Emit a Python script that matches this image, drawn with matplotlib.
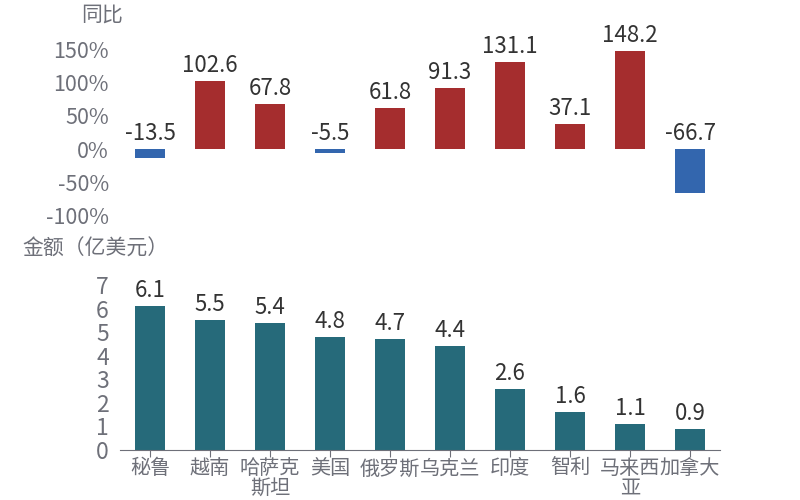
import matplotlib
matplotlib.use("Agg")
import matplotlib.pyplot as plt

plt.rcParams["font.family"] = ["Noto Sans CJK SC", "DejaVu Sans"]

countries = ["秘鲁", "越南", "哈萨克\n斯坦", "美国", "俄罗斯", "乌克兰", "印度", "智利", "马来西\n亚", "加拿大"]
yoy = [-13.5, 102.6, 67.8, -5.5, 61.8, 91.3, 131.1, 37.1, 148.2, -66.7]
amount = [6.1, 5.5, 5.4, 4.8, 4.7, 4.4, 2.6, 1.6, 1.1, 0.9]
yoy_ticks = [-100, -50, 0, 50, 100, 150]
amount_ticks = [0, 1, 2, 3, 4, 5, 6, 7]

RED = "#a52d2e"
BLUE = "#3366ae"
TEAL = "#266a7a"
GRAY = "#6e7079"
DARK = "#333333"

fig = plt.figure(figsize=(8, 5), dpi=100)

# top panel: year-on-year change
ax1 = fig.add_axes([0.15, 0.569, 0.75, 0.332])
x = list(range(len(countries)))
colors = [RED if v >= 0 else BLUE for v in yoy]
ax1.bar(x, yoy, width=0.5, color=colors)
for xi, v in zip(x, yoy):
    ax1.annotate(f"{v}", (xi, max(v, 0)), xytext=(0, 3), textcoords="offset points",
                 ha="center", va="bottom", fontsize=16, color=DARK)
ax1.set_xlim(-0.5, len(countries) - 0.5)
ax1.set_ylim(-100, 150)
ax1.set_yticks(yoy_ticks)
ax1.set_yticklabels([f"{t}%" for t in yoy_ticks])
ax1.set_xticks([])
for s in ax1.spines.values():
    s.set_visible(False)
ax1.tick_params(axis="y", length=0, labelsize=15.5, labelcolor=GRAY, pad=8)
fig.text(0.153, 0.97, "同比", ha="right", va="center", fontsize=15, color=GRAY)

# bottom panel: amount
ax2 = fig.add_axes([0.15, 0.1, 0.75, 0.33])
ax2.bar(x, amount, width=0.5, color=TEAL)
for xi, v in zip(x, amount):
    ax2.annotate(f"{v}", (xi, v), xytext=(0, 3), textcoords="offset points",
                 ha="center", va="bottom", fontsize=16, color=DARK)
ax2.set_xlim(-0.5, len(countries) - 0.5)
ax2.set_ylim(0, 7)
ax2.set_yticks(amount_ticks)
ax2.set_xticks(x)
ax2.set_xticklabels(countries, linespacing=0.9)
for name in ["top", "right", "left"]:
    ax2.spines[name].set_visible(False)
ax2.spines["bottom"].set_color(GRAY)
ax2.tick_params(axis="y", length=0, labelsize=16.5, labelcolor=GRAY, pad=8)
ax2.tick_params(axis="x", length=5, color=GRAY, labelsize=14.5, labelcolor=GRAY, pad=1)
fig.text(0.028, 0.503, "金额（亿美元）", ha="left", va="center", fontsize=15, color=GRAY)

fig.savefig("out.png", dpi=100)
